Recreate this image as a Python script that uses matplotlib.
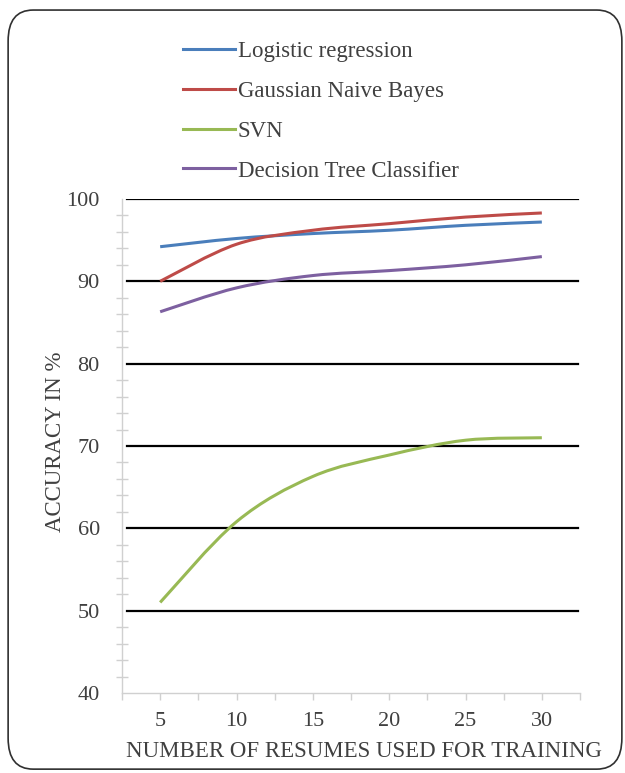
import numpy as np
import matplotlib
matplotlib.use("Agg")
import matplotlib.pyplot as plt
from matplotlib.path import Path
from matplotlib.patches import PathPatch, FancyBboxPatch
from matplotlib.lines import Line2D

plt.rcParams['font.family'] = ['Liberation Serif', 'DejaVu Serif']

# data
resumes = [5, 10, 15, 20, 25, 30]
logistic = [94.2, 95.2, 95.8, 96.2, 96.8, 97.2]
gaussian = [90.0, 94.5, 96.2, 97.0, 97.8, 98.3]
svn = [51.0, 60.8, 66.3, 68.9, 70.7, 71.0]
tree = [86.3, 89.2, 90.7, 91.3, 92.0, 93.0]
names = ["Logistic regression", "Gaussian Naive Bayes", "SVN", "Decision Tree Classifier"]
colors = ["#4a7ebb", "#be4b48", "#98b954", "#7d60a0"]


def smooth_path(x, y):
    # excel-like smoothed line: cubic bezier segments through the points
    p = np.column_stack([x, y]).astype(float)
    n = len(p)
    verts = [p[0]]
    codes = [Path.MOVETO]
    for i in range(n - 1):
        p0 = p[i - 1] if i > 0 else p[i]
        p3 = p[i + 2] if i + 2 < n else p[i + 1]
        c1 = p[i] + (p[i + 1] - p0) / 6.0
        c2 = p[i + 1] - (p3 - p[i]) / 6.0
        verts += [c1, c2, p[i + 1]]
        codes += [Path.CURVE4] * 3
    return Path(verts, codes)


fig = plt.figure(figsize=(6.25, 7.73), dpi=100)
ax = fig.add_axes([0.1952, 0.1035, 0.7328, 0.6391])

for vals, c in zip([logistic, gaussian, svn, tree], colors):
    ax.add_patch(PathPatch(smooth_path(resumes, vals), facecolor="none",
                           edgecolor=c, lw=2.2, capstyle="butt", zorder=3))

ax.set_xlim(2.5, 32.5)
ax.set_ylim(40, 100)
for g in range(50, 101, 10):
    ax.plot([2.8, 32.4], [g, g], color="black", lw=1.6, zorder=2)

ax.set_xticks(np.arange(2.5, 32.6, 2.5))
ax.set_xticklabels(["" if (t % 5) else str(int(t)) for t in np.arange(2.5, 32.6, 2.5)])
ax.set_yticks(range(40, 101, 10))
ax.set_yticks(range(40, 101, 2), minor=True)
ax.tick_params(axis="x", direction="out", length=5, width=1, color="#d0d0d0",
               labelsize=16, labelcolor="#404040", pad=9)
ax.tick_params(axis="y", which="both", direction="inout", length=9, width=1,
               color="#d0d0d0", labelsize=16, labelcolor="#404040", pad=16)
ax.tick_params(axis="y", which="major", length=0)
for s in ["top", "right"]:
    ax.spines[s].set_visible(False)
for s in ["left", "bottom"]:
    ax.spines[s].set_color("#d0d0d0")
    ax.spines[s].set_linewidth(1)

ax.set_xlabel("NUMBER OF RESUMES USED FOR TRAINING", fontsize=16.5, color="#404040", va="center")
ax.xaxis.set_label_coords(0.528, -0.119)
ax.set_ylabel("ACCURACY IN %", fontsize=16.5, color="#404040", va="center")
ax.yaxis.set_label_coords(-0.145, 0.508)

handles = [Line2D([], [], color=c, lw=2.2) for c in colors]
fig.legend(handles, names, loc="upper left", bbox_to_anchor=(0.293, 0.947),
           frameon=False, fontsize=16.5, handlelength=2.27, handletextpad=0.12,
           labelspacing=0.82, borderpad=0, borderaxespad=0, labelcolor="#404040")

fig.patches.append(FancyBboxPatch((0.013, 0.005), 0.982, 0.982, boxstyle="round,pad=0,rounding_size=0.04",
                                  transform=fig.transFigure, fill=False, edgecolor="#303030", lw=1.2))

fig.savefig("out.png", dpi=100)
